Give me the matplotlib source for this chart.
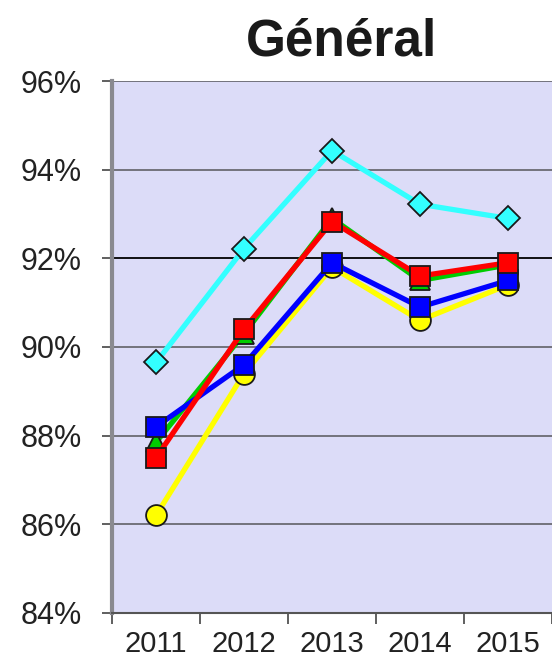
import matplotlib
matplotlib.use("Agg")
import matplotlib.pyplot as plt
from matplotlib.ticker import FixedLocator

# data (percent)
years = ["2011", "2012", "2013", "2014", "2015"]
cyan_vals = [89.65, 92.22, 94.43, 93.22, 92.90]
red_vals = [87.50, 90.40, 92.83, 91.60, 91.90]
green_vals = [87.85, 90.30, 92.90, 91.50, 91.85]
blue_vals = [88.20, 89.60, 91.90, 90.90, 91.50]
yellow_vals = [86.20, 89.40, 91.80, 90.60, 91.40]
y_ticks = [84, 86, 88, 90, 92, 94, 96]

plt.rcParams["font.family"] = ["Liberation Sans", "DejaVu Sans"]

fig = plt.figure(figsize=(5.52, 6.64), dpi=100)
ax = fig.add_axes([0.203, 0.077, 0.797, 0.801])
ax.set_facecolor("#dcdcf8")

x = list(range(len(years)))

# series in drawing order (bottom to top)
series = [
    (yellow_vals, "#ffff00", "o", 15),
    (green_vals, "#00cc00", "^", 15),
    (blue_vals, "#0000ff", "s", 14),
    (red_vals, "#ff0000", "s", 14),
    (cyan_vals, "#33ffff", "D", 12),
]
for vals, col, mk, ms in series:
    ax.plot(x, vals, color=col, linewidth=3.8, marker=mk, markersize=ms,
            markerfacecolor=col, markeredgecolor="#1a1a1a", markeredgewidth=1.3,
            zorder=3)

# grid lines (92% drawn darker)
for yv in y_ticks[1:]:
    ax.axhline(yv, color="black" if yv == 92 else "#6a6a72", linewidth=1.3, zorder=1)

ax.set_xlim(-0.5, len(years) - 0.5)
ax.set_ylim(84, 96)
ax.set_yticks(y_ticks)
ax.set_yticklabels([f"{v}%" for v in y_ticks])
ax.set_xticks(x)
ax.set_xticklabels(years)
ax.xaxis.set_minor_locator(FixedLocator([i - 0.5 for i in range(len(years) + 1)]))

ax.tick_params(axis="y", direction="out", length=7, width=1.2, color="#444444",
               labelsize=22, pad=15, labelcolor="#222222")
ax.tick_params(axis="x", which="major", length=0, labelsize=21, pad=12,
               labelcolor="#222222")
ax.tick_params(axis="x", which="minor", direction="out", length=8, width=1.2,
               color="#444444")

for side in ("top", "right"):
    ax.spines[side].set_visible(False)
ax.spines["left"].set_color("#8a8a90")
ax.spines["left"].set_linewidth(3)
ax.spines["bottom"].set_color("#555555")
ax.spines["bottom"].set_linewidth(1.5)

fig.text(0.618, 1 - 55 / 664, "Général", ha="center", va="baseline",
         fontsize=37, fontweight="bold", color="#1a1a1a")

fig.savefig("out.png", dpi=100)
